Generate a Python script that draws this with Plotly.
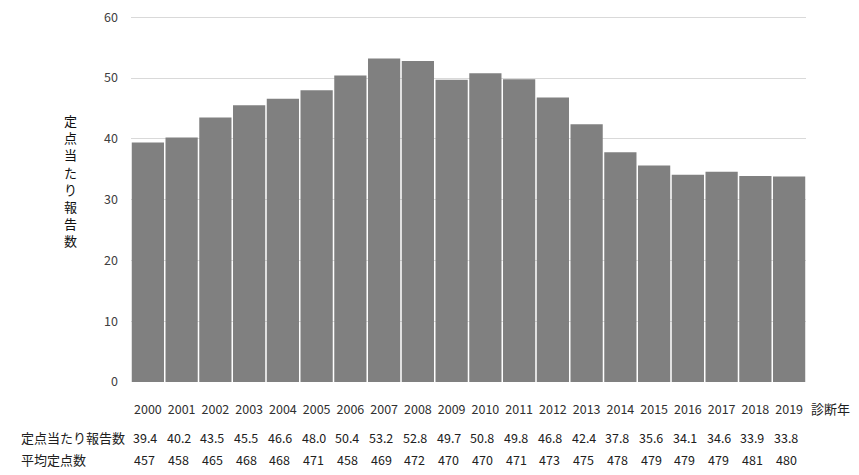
import plotly.graph_objects as go

FONT = "Noto Sans CJK JP"

years = ["2000", "2001", "2002", "2003", "2004", "2005", "2006", "2007", "2008", "2009",
         "2010", "2011", "2012", "2013", "2014", "2015", "2016", "2017", "2018", "2019"]
reports = [39.4, 40.2, 43.5, 45.5, 46.6, 48.0, 50.4, 53.2, 52.8, 49.7,
           50.8, 49.8, 46.8, 42.4, 37.8, 35.6, 34.1, 34.6, 33.9, 33.8]
sites = [457, 458, 465, 468, 468, 471, 458, 469, 472, 470,
         470, 471, 473, 475, 478, 479, 479, 479, 481, 480]

row_labels = ["定点当たり報告数", "平均定点数"]
y_title = "定点当たり報告数"
x_title = "診断年"

# the page body adds an 8px offset, so the figure is 8px smaller
fig = go.Figure()
fig.add_trace(go.Bar(
    x=years,
    y=reports,
    marker=dict(color="#808080", line=dict(width=0)),
    hoverinfo="x+y",
))

fig.update_layout(
    width=851,
    height=467,
    margin=dict(l=123, r=53, t=8, b=93),
    plot_bgcolor="white",
    paper_bgcolor="white",
    bargap=0.045,
    showlegend=False,
    font=dict(family=FONT, size=12, color="#404040"),
    xaxis=dict(
        type="category",
        range=[-0.5, len(years) - 0.5],
        automargin=False,
        showgrid=False,
        showline=False,
        ticks="",
        ticklabelstandoff=18,
        tickfont=dict(size=12.5, color="#303030"),
    ),
    yaxis=dict(
        # a little headroom so the 60 gridline and label are drawn
        range=[0, 60.2],
        tickvals=[0, 10, 20, 30, 40, 50, 60],
        automargin=False,
        ticklabeloverflow="allow",
        showgrid=True,
        gridcolor="#d9d9d9",
        gridwidth=1,
        zeroline=False,
        showline=False,
        ticks="",
        ticklabelstandoff=12,
        tickfont=dict(size=12.5, color="#404040"),
    ),
)

# vertical y-axis title, one character per annotation
n = len(y_title)
for k, ch in enumerate(y_title):
    fig.add_annotation(
        text=ch, xref="paper", yref="paper",
        x=-0.09, y=0.55, yshift=-(k - (n - 1) / 2) * 17.2,
        xanchor="center", yanchor="middle", borderpad=0,
        showarrow=False, font=dict(size=13, color="#101010"),
    )

# x-axis title
fig.add_annotation(
    text=x_title, xref="paper", yref="paper",
    x=1.004, y=-0.072, xanchor="left", yanchor="middle",
    showarrow=False, font=dict(size=13, color="#202020"),
)

# data table under the chart (x by category index)
ROW_Y = [-0.152, -0.213]
for i in range(len(years)):
    fig.add_annotation(
        text=f"{reports[i]:.1f}", x=i, xref="x", yref="paper",
        y=ROW_Y[0], yanchor="middle", xshift=-3, showarrow=False,
        font=dict(size=12.5, color="#202020"),
    )
    fig.add_annotation(
        text=str(sites[i]), x=i, xref="x", yref="paper",
        y=ROW_Y[1], yanchor="middle", xshift=-3, showarrow=False,
        font=dict(size=12.5, color="#202020"),
    )

for label, yy in zip(row_labels, ROW_Y):
    fig.add_annotation(
        text=label, xref="paper", yref="paper",
        x=-0.166, y=yy, xanchor="left", yanchor="middle",
        showarrow=False, font=dict(size=13, color="#202020"),
    )

fig.write_html("out.html")
